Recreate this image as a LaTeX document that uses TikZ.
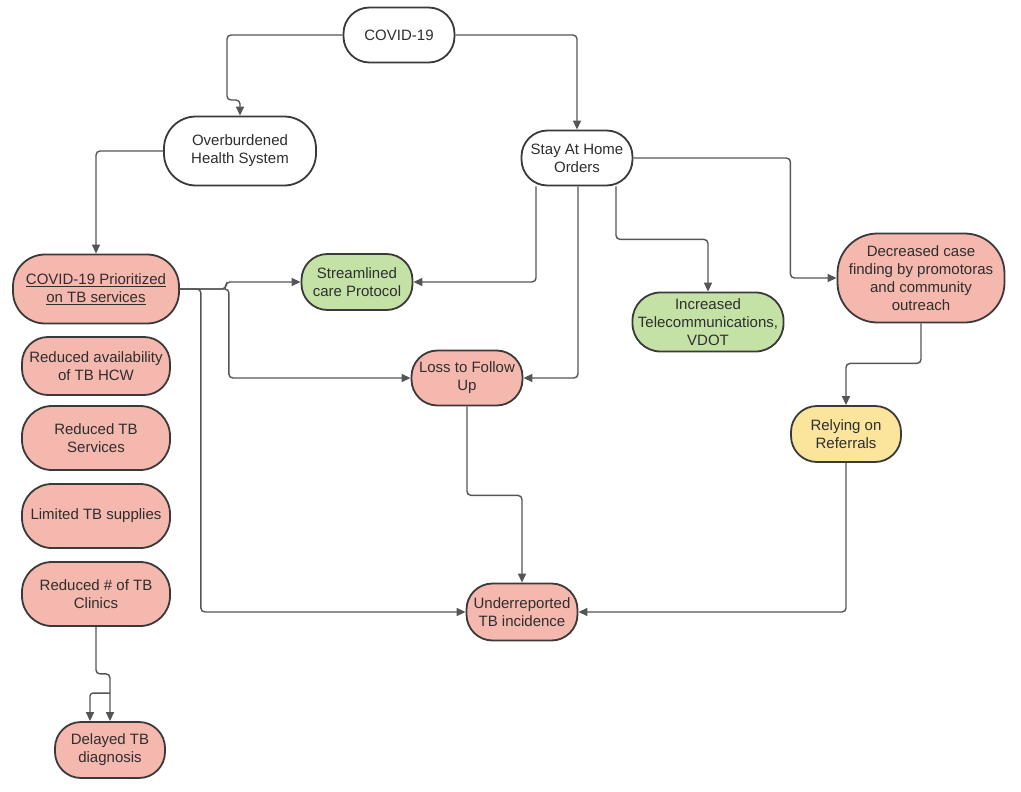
\documentclass[tikz,border=0pt]{standalone}
\usepackage{fontspec}
\setmainfont{Liberation Sans}
\usetikzlibrary{arrows.meta,calc}
\definecolor{pinkf}{HTML}{F5B8AE}
\definecolor{greenf}{HTML}{C5E2A6}
\definecolor{yellowf}{HTML}{FBE59C}
\definecolor{edgec}{HTML}{3A3A3A}
\definecolor{linec}{HTML}{555555}
\definecolor{textc}{HTML}{2E2E2E}
\begin{document}
\begin{tikzpicture}[x=1pt,y=-1pt,
  box/.style={draw=edgec, line width=1.8pt, rectangle, rounded corners=26pt, align=center,
    inner sep=0pt, text=textc, font=\fontsize{15}{18}\selectfont},
  wbox/.style={box, fill=white},
  pbox/.style={box, fill=pinkf},
  gbox/.style={box, fill=greenf},
  ybox/.style={box, fill=yellowf},
  conn/.style={draw=linec, line width=1.4pt, rounded corners=4pt, -{Triangle[length=9pt,width=8pt]}}]
\useasboundingbox (0,0) rectangle (1021,792);
\fill[white] (0,0) rectangle (1021,792);

\node[wbox, minimum width=111pt, minimum height=55pt] (cov) at (399,35) {COVID-19};
\node[wbox, minimum width=152pt, minimum height=69pt, rounded corners=32pt] (over) at (240,151) {Overburdened\\Health System};
\node[wbox, minimum width=111pt, minimum height=55pt] (stay) at (577,158) {Stay At Home\\Orders};
\node[pbox, minimum width=166pt, minimum height=69pt, rounded corners=32pt] (prio) at (96,289) {\underline{COVID-19 Prioritized}\\\underline{on TB services}};
\node[gbox, minimum width=111pt, minimum height=56pt] (stream) at (357,282) {Streamlined\\care Protocol};
\node[pbox, minimum width=148pt, minimum height=58pt] (hcw) at (96,366) {Reduced availability\\of TB HCW};
\node[pbox, minimum width=148pt, minimum height=64pt, rounded corners=30pt] (serv) at (96,438) {Reduced TB\\Services};
\node[pbox, minimum width=148pt, minimum height=64pt, rounded corners=30pt] (supp) at (96,516) {Limited TB supplies};
\node[pbox, minimum width=148pt, minimum height=64pt, rounded corners=30pt] (clin) at (96,594) {Reduced \# of TB\\Clinics};
\node[pbox, minimum width=110pt, minimum height=56pt] (del) at (110,750) {Delayed TB\\diagnosis};
\node[pbox, minimum width=111pt, minimum height=55pt] (loss) at (467,378) {Loss to Follow\\Up};
\node[gbox, minimum width=151pt, minimum height=59pt, rounded corners=28pt] (tele) at (708,322) {Increased\\Telecommunications,\\VDOT};
\node[pbox, minimum width=167pt, minimum height=89pt, rounded corners=40pt] (dec) at (921,278) {Decreased case\\finding by promotoras\\and community\\outreach};
\node[ybox, minimum width=110pt, minimum height=56pt] (rely) at (846,434) {Relying on\\Referrals};
\node[pbox, minimum width=111pt, minimum height=57pt] (under) at (522,612) {Underreported\\TB incidence};

% COVID-19 branches
\draw[conn] (cov.west) -| (227,100) -| (over.north);
\draw[conn] (cov.east) -| (stay.north);
% Overburdened -> Prioritized
\draw[conn] (over.west) -| (prio.north);
% Prioritized branches
\draw[conn] (prio.east) -- ++(46,0) |- (stream.west);
\draw[conn] (prio.east) -- ++(49,0) |- (loss.west);
\draw[conn] (prio.east) -- ++(21,0) |- (under.west);
% Stay at home branches
\draw[conn] ([xshift=-41pt]stay.south) |- (stream.east);
\draw[conn] ([xshift=1pt]stay.south) |- (loss.east);
\draw[conn] ([xshift=39pt]stay.south) -- ++(0,53) -| (tele.north);
\draw[conn] (stay.east) -- ++(157,0) |- (dec.west);
% Decreased -> Relying -> Underreported
\draw[conn] (dec.south) -- ++(0,40) -| (rely.north);
\draw[conn] (rely.south) |- (under.east);
% Loss -> Underreported
\draw[conn] (loss.south) -- ++(0,89) -| (under.north);
% Clinics -> Delayed
\draw[conn] (clin.south) -- ++(0,47) -| (del.north);
\coordinate (branch) at ($(del.north)+(0,-28)$);
\draw[conn, rounded corners=3pt] (branch) -| ([xshift=-20pt]del.north);
\end{tikzpicture}
\end{document}
